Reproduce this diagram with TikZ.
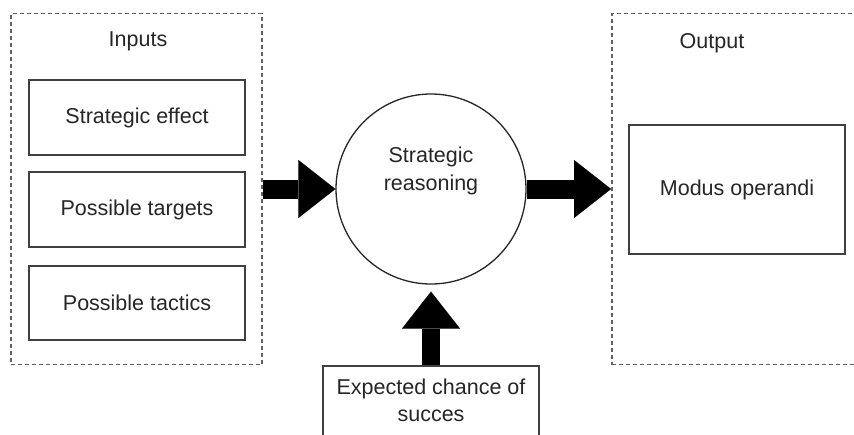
\documentclass[tikz,border=0pt]{standalone}
\usepackage{fontspec}
\setmainfont{Liberation Sans}
\usetikzlibrary{arrows.meta}
\begin{document}
\begin{tikzpicture}[x=1pt,y=-1pt,
  every node/.style={font=\fontsize{21.5}{27}\selectfont, text=black!85},
  groupbox/.style={draw=black!62, line width=1.8pt, dash pattern=on 4pt off 3pt, inner sep=0pt},
  itembox/.style={draw=black!75, line width=1.6pt, inner sep=0pt, align=center},
  blockarrow/.style={line width=19pt, black, -{Triangle[length=37pt,width=58pt,line width=0.01pt]}}
]
\clip (0,0) rectangle (854,434);
\fill[white] (0,0) rectangle (854,434);
% group boxes
\node[groupbox, minimum width=251pt, minimum height=351pt] (inputs) at (136.5,189) {};
\node[groupbox, minimum width=270pt, minimum height=351pt, anchor=west] (outputs) at (611,189) {};
\node (inlab) at (138,41) {Inputs};
\node (outlab) at (712,43) {Output};
% input boxes
\node[itembox, minimum width=216pt, minimum height=75pt] (se) at (137,117.5) {Strategic effect};
\node[itembox, minimum width=216pt, minimum height=75pt] (pt) at (137,209.5) {Possible targets};
\node[itembox, minimum width=216pt, minimum height=74pt] (ptac) at (137,303) {Possible tactics};
% circle
\node[draw=black!85, line width=1.3pt, circle, minimum size=190pt,
  label={[yshift=18pt, align=center, font=\fontsize{21.5}{28}\selectfont, text=black!85]center:Strategic\\reasoning}] (sr) at (431,189) {};
% output box
\node[itembox, minimum width=216pt, minimum height=129pt] (mo) at (737,189.5) {Modus operandi};
% bottom box
\node[itembox, minimum width=216pt, minimum height=100pt, anchor=north] (ecs) at (431,365) {};
\node[align=center] (ecstext) at (431,400) {Expected chance of\\succes};
% arrows
\draw[blockarrow] (inputs.east) -- (sr.west);
\draw[blockarrow] (sr.east) -- (outputs.west);
\draw[blockarrow, line width=18pt, shorten >=7pt] (ecs.north) -- (sr.south);
\end{tikzpicture}
\end{document}
